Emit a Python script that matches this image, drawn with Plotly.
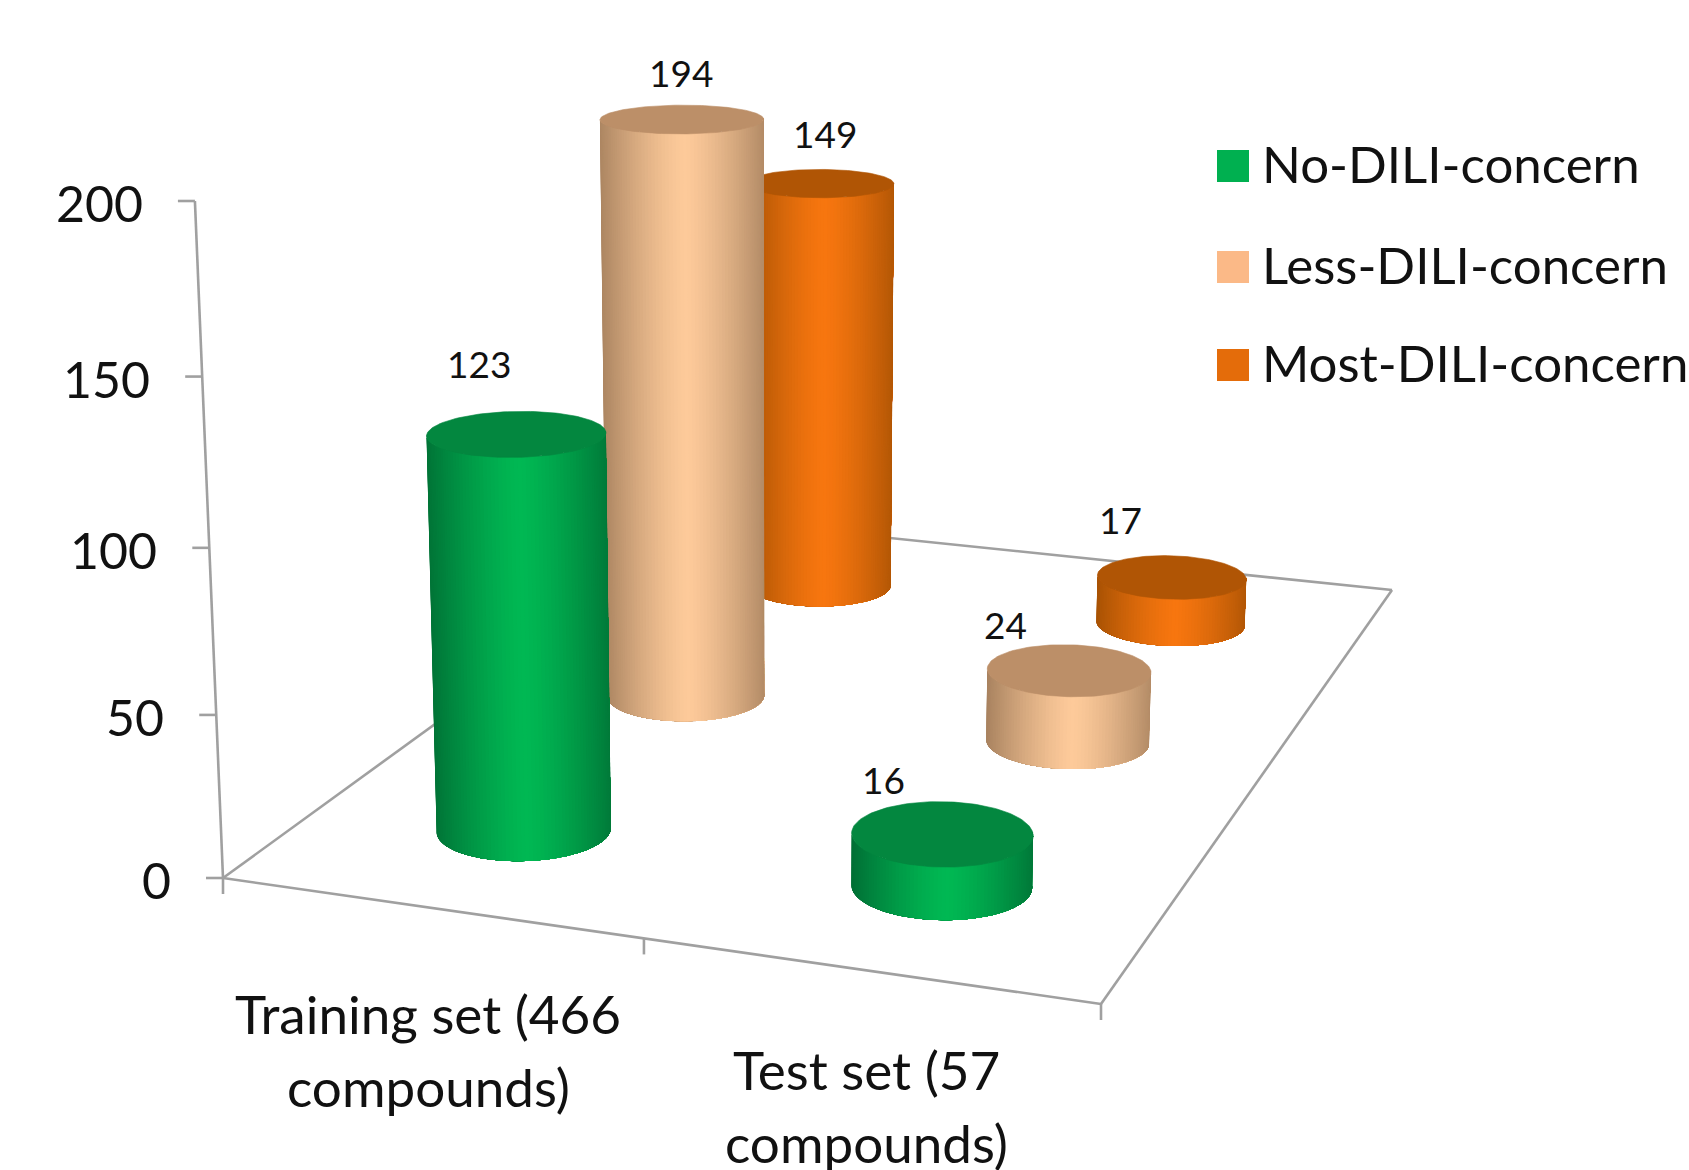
import numpy as np
import plotly.graph_objects as go

# ---- chart data ----
categories = [["Training set (466", "compounds)"], ["Test set (57", "compounds)"]]
series_names = ["No-DILI-concern", "Less-DILI-concern", "Most-DILI-concern"]
training_values = [123, 194, 149]
test_values = [16, 24, 17]
value_ticks = [0, 50, 100, 150, 200]

# ---- styling ----
FONT = "Lato"
LEGEND_COLORS = ["#00B050", "#FBB987", "#E46C0A"]
SIDE_CENTER = ["#00B853", "#FDCA9A", "#F7760F"]
SIDE_EDGE = ["#006F35", "#A8825F", "#A85204"]
TOP_COLORS = ["#03873F", "#BC8F68", "#B05505"]
AXIS_COLOR = "#A0A0A0"
W, H = 1689, 1170

# Perspective calibration of the chart box: floor corners, top of the value
# axis and the vanishing point of the verticals, in page pixels.
FLOOR_PIX = [(223, 878), (1101, 1004), (1392, 590), (716, 520)]
AXIS_TOP_PIX = (195, 201)
VERTICAL_VP = (780.0, 14300.0)
N_CAT, N_SER, Z_MAX = 2, 3, 200
RX, RY = 0.198, 0.198  # cylinder radius in floor units


def floor_homography():
    src = [(0, 0), (N_CAT, 0), (N_CAT, N_SER), (0, N_SER)]
    rows, rhs = [], []
    for (x, y), (u, v) in zip(src, FLOOR_PIX):
        rows.append([x, y, 1, 0, 0, 0, -u * x, -u * y])
        rhs.append(u)
        rows.append([0, 0, 0, x, y, 1, -v * x, -v * y])
        rhs.append(v)
    h = np.linalg.solve(np.array(rows, float), np.array(rhs, float))
    return np.array([[h[0], h[1], h[2]], [h[3], h[4], h[5]], [h[6], h[7], 1.0]])


HOM = floor_homography()
_s = (FLOOR_PIX[0][1] - AXIS_TOP_PIX[1]) / (AXIS_TOP_PIX[1] - VERTICAL_VP[1])
Z_COL = np.array([VERTICAL_VP[0], VERTICAL_VP[1], 1.0]) * _s / Z_MAX


def project(x, y, z):
    """Map chart coordinates (category, series, value) onto the page axes."""
    p = HOM @ np.array([x, y, 1.0]) + Z_COL * z
    return p[0] / p[2], p[1] / p[2]


def hex_rgb(c):
    return np.array([int(c[i:i + 2], 16) for i in (1, 3, 5)], float)


def mix(a, b, t):
    c = hex_rgb(a) * (1 - t) + hex_rgb(b) * t
    return "rgb(%d,%d,%d)" % tuple(np.round(c))


fig = go.Figure()


def polygon(px, py, color, line=0.0):
    fig.add_trace(go.Scatter(
        x=px, y=py, mode="lines", fill="toself", fillcolor=color,
        line=dict(color=color, width=line), hoverinfo="skip", showlegend=False))


def segment(p, q):
    fig.add_trace(go.Scatter(
        x=[p[0], q[0]], y=[p[1], q[1]], mode="lines",
        line=dict(color=AXIS_COLOR, width=2.6), hoverinfo="skip", showlegend=False))


# Floor outline and axes
corners = [project(0, 0, 0), project(N_CAT, 0, 0), project(N_CAT, N_SER, 0), project(0, N_SER, 0)]
for i in range(4):
    segment(corners[i], corners[(i + 1) % 4])
segment(project(0, 0, 0), project(0, 0, Z_MAX))

annotations = []
for v in value_ticks:
    px, py = project(0, 0, v)
    segment((px - 17, py), (px, py))
    annotations.append(dict(x=px - 50, y=py + 2, text=str(v), xanchor="right", yanchor="middle",
                            font=dict(family=FONT, size=50, color="#111111")))
for c in range(N_CAT + 1):
    px, py = project(c, 0, 0)
    segment((px, py), (px, py + 16))


def cylinder(cx, cy, value, s):
    theta = np.linspace(0, 2 * np.pi, 145)[:-1]
    base = np.array([project(cx + RX * np.cos(t), cy + RY * np.sin(t), 0) for t in theta])
    top = np.array([project(cx + RX * np.cos(t), cy + RY * np.sin(t), value) for t in theta])
    # walk the outline from its leftmost point and keep the arc facing the viewer
    start = int(np.argmin(base[:, 0]))
    base, top = np.roll(base, -start, axis=0), np.roll(top, -start, axis=0)
    end = int(np.argmax(base[:, 0]))
    if base[:end + 1, 1].mean() < base[end:, 1].mean():
        base, top = base[::-1], top[::-1]
        base, top = np.roll(base, 1, axis=0), np.roll(top, 1, axis=0)
        end = int(np.argmax(base[:, 0]))
    arc = np.arange(-2, end + 3) % len(base)
    fb, ft = base[arc], top[arc]
    xmin, xmax = min(fb[:, 0].min(), ft[:, 0].min()), max(fb[:, 0].max(), ft[:, 0].max())
    mid, half = (xmin + xmax) / 2, (xmax - xmin) / 2
    # each layer reaches to the right end of the arc, so neighbouring tones leave no seam
    for k in range(len(arc) - 1):
        u = ((fb[k, 0] + fb[k + 1, 0] + ft[k, 0] + ft[k + 1, 0]) / 4 - mid) / half
        f = min(1.0, abs(u - 0.05) / 1.05) ** 1.35
        col = mix(SIDE_CENTER[s], SIDE_EDGE[s], f)
        xs = list(fb[k:, 0]) + list(ft[k:, 0][::-1])
        ys = list(fb[k:, 1]) + list(ft[k:, 1][::-1])
        polygon(xs + [xs[0]], ys + [ys[0]], col)
    polygon(list(top[:, 0]) + [top[0, 0]], list(top[:, 1]) + [top[0, 1]], TOP_COLORS[s], line=0.6)


# Cylinders, painted back to front
LABEL_SHIFT = {(0, 0): (-37, -70), (0, 1): (-1, -47), (0, 2): (5, -50),
               (1, 0): (-59, -54), (1, 1): (-64, -46), (1, 2): (-51, -58)}
rows = [training_values, test_values]
for s in reversed(range(N_SER)):
    for c in range(N_CAT):
        cx, cy = c + 0.5, s + 0.5
        value = rows[c][s]
        cylinder(cx, cy, value, s)
        px, py = project(cx, cy, value)
        dx, dy = LABEL_SHIFT[(c, s)]
        annotations.append(dict(x=px + dx, y=py + dy, text=str(value), xanchor="center", yanchor="middle",
                                font=dict(family=FONT, size=37, color="#111111")))

# Category labels under the front edge
CAT_POS = [[(428, 1013), (428, 1086)], [(866, 1069), (866, 1142)]]
for lines, pos in zip(categories, CAT_POS):
    for line, (px, py) in zip(lines, pos):
        annotations.append(dict(x=px, y=py, text=line, xanchor="center", yanchor="middle",
                                font=dict(family=FONT, size=53, color="#111111")))

# Series key at the upper right
KEY_X, KEY_Y = 1233, [166, 267, 365]
for name, color, ky in zip(series_names, LEGEND_COLORS, KEY_Y):
    fig.add_trace(go.Scatter(x=[KEY_X], y=[ky], mode="markers", name=name,
                             marker=dict(symbol="square", size=32, color=color),
                             hoverinfo="name", showlegend=False))
    annotations.append(dict(x=KEY_X + 27, y=ky - 3, text=name, xanchor="left", yanchor="middle",
                            font=dict(family=FONT, size=51, color="#111111")))

for a in annotations:
    a.update(xref="x", yref="y", showarrow=False)

fig.update_layout(
    width=W, height=H, margin=dict(l=0, r=0, t=0, b=0), showlegend=False,
    paper_bgcolor="white", plot_bgcolor="white", annotations=annotations,
    xaxis=dict(range=[0, W], visible=False, fixedrange=True),
    yaxis=dict(range=[H, 0], visible=False, fixedrange=True),
)
fig.write_html("out.html")
